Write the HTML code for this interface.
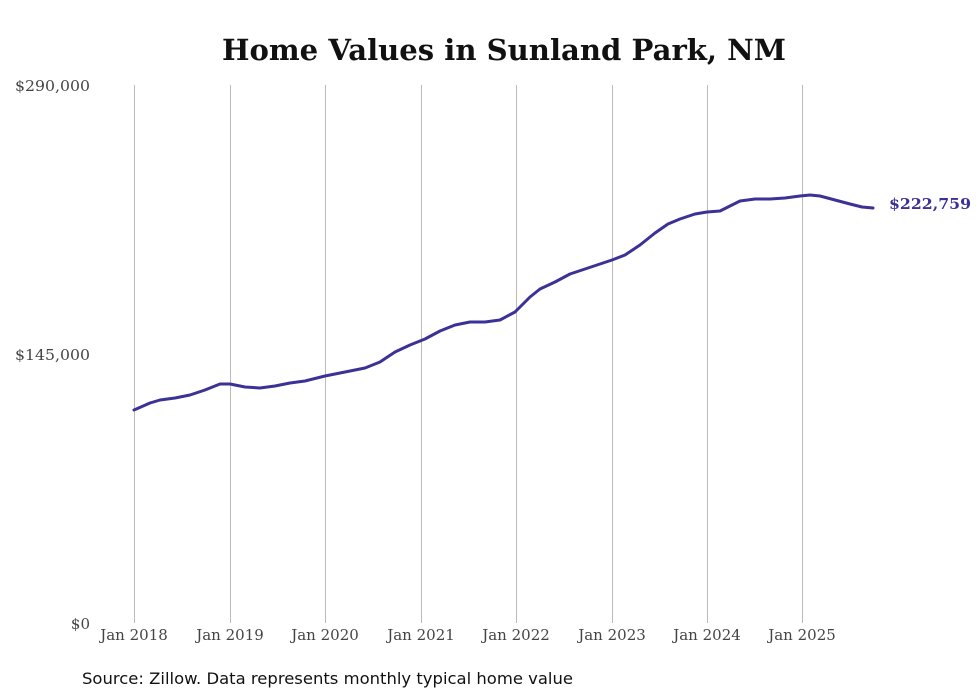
<!DOCTYPE html>
<html><head><meta charset="utf-8"><style>body{margin:0;background:#fff}</style></head>
<body>
<svg width="980" height="699" xmlns="http://www.w3.org/2000/svg" style="display:block">
<rect width="980" height="699" fill="#fff"/>
<text x="504" y="60" text-anchor="middle" font-family="'DejaVu Serif',serif" font-weight="bold" font-size="29" fill="#111" textLength="564" lengthAdjust="spacingAndGlyphs">Home Values in Sunland Park, NM</text>
<g stroke="#bbb" stroke-width="1">
<line x1="134.5" y1="85" x2="134.5" y2="623"/><line x1="230.5" y1="85" x2="230.5" y2="623"/>
<line x1="325.5" y1="85" x2="325.5" y2="623"/><line x1="421.5" y1="85" x2="421.5" y2="623"/>
<line x1="516.5" y1="85" x2="516.5" y2="623"/><line x1="612.5" y1="85" x2="612.5" y2="623"/>
<line x1="707.5" y1="85" x2="707.5" y2="623"/><line x1="802.5" y1="85" x2="802.5" y2="623"/>
</g>
<g font-family="'DejaVu Serif',serif" font-size="15" fill="#444">
<text x="90" y="91" text-anchor="end" textLength="75" lengthAdjust="spacingAndGlyphs">$290,000</text>
<text x="90" y="360" text-anchor="end" textLength="75" lengthAdjust="spacingAndGlyphs">$145,000</text>
<text x="90" y="629" text-anchor="end">$0</text>
<g text-anchor="middle">
<text x="134" y="640">Jan 2018</text><text x="230" y="640">Jan 2019</text>
<text x="325" y="640">Jan 2020</text><text x="421" y="640">Jan 2021</text>
<text x="516" y="640">Jan 2022</text><text x="612" y="640">Jan 2023</text>
<text x="707" y="640">Jan 2024</text><text x="802" y="640">Jan 2025</text>
</g></g>
<polyline fill="none" stroke="#3b3196" stroke-width="3" stroke-linejoin="round" stroke-linecap="round" points="134,410 150,403 160,400 175,398 190,395 205,390 220,384 230,384 245,387 260,388 275,386 290,383 305,381 325,376 345,372 365,368 380,362 395,352 410,345 425,339 440,331 455,325 470,322 485,322 500,320 515,312 530,297 540,289 555,282 570,274 585,269 600,264 612,260 625,255 640,245 655,233 668,224 680,219 695,214 707,212 720,211 730,206 740,201 755,199 770,199 785,198 800,196 810,195 820,196 835,200 850,204 862,207 873,208"/>
<text x="889" y="209" font-family="'DejaVu Serif',serif" font-weight="bold" font-size="15" fill="#3b3196" textLength="82" lengthAdjust="spacingAndGlyphs">$222,759</text>
<text x="82" y="684" font-family="'DejaVu Sans',sans-serif" font-size="16" fill="#111" textLength="491" lengthAdjust="spacingAndGlyphs">Source: Zillow. Data represents monthly typical home value</text>
</svg>
</body></html>
